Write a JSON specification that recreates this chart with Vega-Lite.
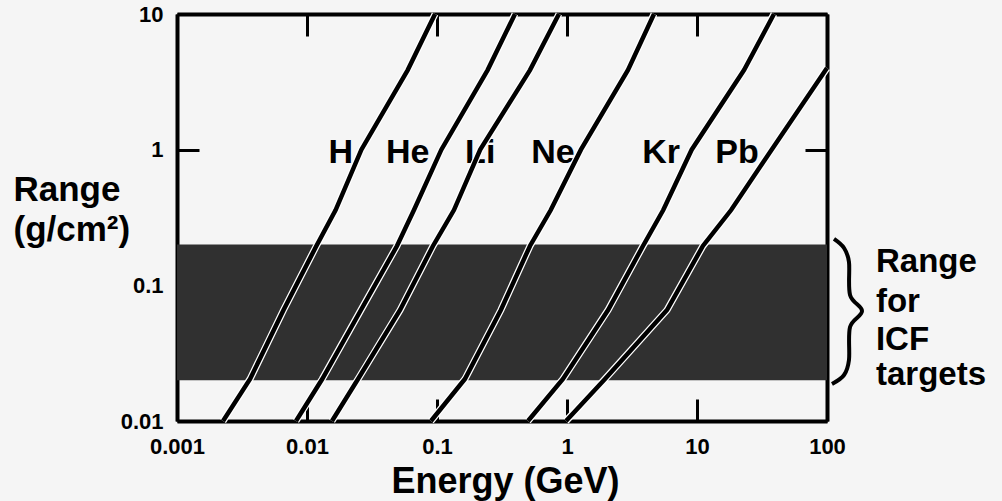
{
  "$schema": "https://vega.github.io/schema/vega-lite/v6.json",
  "width": 650,
  "height": 407,
  "autosize": {"type": "none"},
  "padding": {"left": 177, "top": 14, "right": 175, "bottom": 80},
  "background": "#f5f5f5",
  "config": {
    "view": {"stroke": null},
    "font": "Liberation Sans",
    "axis": {
      "zindex": 1,
      "grid": false,
      "labelFlush": false,
      "domainColor": "black",
      "domainWidth": 4,
      "tickColor": "black",
      "tickWidth": 3,
      "tickSize": -22,
      "labelFont": "Liberation Sans",
      "labelFontWeight": "bold",
      "labelFontSize": 22,
      "labelColor": "black",
      "titleFont": "Liberation Sans",
      "titleFontWeight": "bold",
      "titleColor": "black"
    }
  },
  "datasets": {
    "curves": [
      {"ion": "H", "E": 0.00226, "R": 0.01},
      {"ion": "H", "E": 0.00365, "R": 0.0204},
      {"ion": "H", "E": 0.0066, "R": 0.0658},
      {"ion": "H", "E": 0.0118, "R": 0.195},
      {"ion": "H", "E": 0.0166, "R": 0.359},
      {"ion": "H", "E": 0.0262, "R": 1.0},
      {"ion": "H", "E": 0.0595, "R": 3.86},
      {"ion": "H", "E": 0.0966, "R": 10},
      {"ion": "He", "E": 0.00823, "R": 0.01},
      {"ion": "He", "E": 0.0131, "R": 0.0204},
      {"ion": "He", "E": 0.026, "R": 0.0658},
      {"ion": "He", "E": 0.0492, "R": 0.195},
      {"ion": "He", "E": 0.0665, "R": 0.359},
      {"ion": "He", "E": 0.108, "R": 1.0},
      {"ion": "He", "E": 0.245, "R": 3.86},
      {"ion": "He", "E": 0.398, "R": 10},
      {"ion": "Li", "E": 0.01557, "R": 0.01},
      {"ion": "Li", "E": 0.0247, "R": 0.0204},
      {"ion": "Li", "E": 0.052, "R": 0.0658},
      {"ion": "Li", "E": 0.0931, "R": 0.195},
      {"ion": "Li", "E": 0.135, "R": 0.359},
      {"ion": "Li", "E": 0.215, "R": 1.0},
      {"ion": "Li", "E": 0.519, "R": 3.86},
      {"ion": "Li", "E": 0.867, "R": 10},
      {"ion": "Ne", "E": 0.0899, "R": 0.01},
      {"ion": "Ne", "E": 0.164, "R": 0.0204},
      {"ion": "Ne", "E": 0.31, "R": 0.0658},
      {"ion": "Ne", "E": 0.519, "R": 0.195},
      {"ion": "Ne", "E": 0.75, "R": 0.359},
      {"ion": "Ne", "E": 1.28, "R": 1.0},
      {"ion": "Ne", "E": 2.94, "R": 3.86},
      {"ion": "Ne", "E": 4.67, "R": 10},
      {"ion": "Kr", "E": 0.501, "R": 0.01},
      {"ion": "Kr", "E": 0.931, "R": 0.0204},
      {"ion": "Kr", "E": 2.07, "R": 0.0658},
      {"ion": "Kr", "E": 3.84, "R": 0.195},
      {"ion": "Kr", "E": 5.5, "R": 0.359},
      {"ion": "Kr", "E": 9.1, "R": 1.0},
      {"ion": "Kr", "E": 23.0, "R": 3.86},
      {"ion": "Kr", "E": 39.1, "R": 10},
      {"ion": "Pb", "E": 0.983, "R": 0.01},
      {"ion": "Pb", "E": 1.96, "R": 0.0204},
      {"ion": "Pb", "E": 5.88, "R": 0.0658},
      {"ion": "Pb", "E": 11.1, "R": 0.195},
      {"ion": "Pb", "E": 18.3, "R": 0.359},
      {"ion": "Pb", "E": 37.5, "R": 1.0},
      {"ion": "Pb", "E": 100, "R": 4.0}
    ],
    "labels": [
      {"ion": "H", "E": 0.0182, "R": 0.8},
      {"ion": "He", "E": 0.0595, "R": 0.8},
      {"ion": "Li", "E": 0.215, "R": 0.8},
      {"ion": "Ne", "E": 0.78, "R": 0.8},
      {"ion": "Kr", "E": 5.3, "R": 0.8},
      {"ion": "Pb", "E": 20.3, "R": 0.8}
    ],
    "brace": [
      {"i": 0, "E": 113.2, "R": 0.2198},
      {"i": 1, "E": 135.2, "R": 0.1884},
      {"i": 2, "E": 147.6, "R": 0.1486},
      {"i": 3, "E": 150.4, "R": 0.0849},
      {"i": 4, "E": 185.9, "R": 0.0647},
      {"i": 5, "E": 150.4, "R": 0.0493},
      {"i": 6, "E": 147.6, "R": 0.0282},
      {"i": 7, "E": 135.2, "R": 0.02183},
      {"i": 8, "E": 109.2, "R": 0.01875}
    ],
    "note": [
      {"t": "Range", "E": 238, "R": 0.1253},
      {"t": "for", "E": 238, "R": 0.0637},
      {"t": "ICF", "E": 238, "R": 0.0334},
      {"t": "targets", "E": 238, "R": 0.0184}
    ],
    "band": [
      {"lo": 0.02, "hi": 0.2}
    ]
  },
  "resolve": {"axis": {"x": "independent", "y": "independent"}},
  "layer": [
    {
      "data": {"name": "band"},
      "mark": {"type": "rect", "color": "#303030"},
      "encoding": {
        "y": {"field": "lo", "type": "quantitative", "scale": {"type": "log", "domain": [0.01, 10], "nice": false}, "axis": null},
        "y2": {"field": "hi"}
      }
    },
    {
      "data": {"name": "labels"},
      "mark": {"type": "text", "font": "Liberation Sans", "fontWeight": "bold", "fontSize": 34, "align": "center", "baseline": "alphabetic", "color": "black"},
      "encoding": {
        "x": {"field": "E", "type": "quantitative", "scale": {"type": "log", "domain": [0.001, 100], "nice": false}, "axis": null},
        "y": {"field": "R", "type": "quantitative", "scale": {"type": "log", "domain": [0.01, 10], "nice": false}, "axis": null},
        "text": {"field": "ion"}
      }
    },
    {
      "data": {"name": "curves"},
      "mark": {"type": "line", "color": "white", "strokeWidth": 7},
      "encoding": {
        "x": {"field": "E", "type": "quantitative", "scale": {"type": "log", "domain": [0.001, 100], "nice": false},
              "axis": {"orient": "top", "values": [0.001, 0.01, 0.1, 1, 10, 100], "labels": false, "title": null}},
        "y": {"field": "R", "type": "quantitative", "scale": {"type": "log", "domain": [0.01, 10], "nice": false},
              "axis": {"orient": "right", "values": [0.01, 0.1, 1, 10], "labels": false, "title": null,
                       "tickColor": {"condition": {"test": "datum.value === 0.1", "value": "white"}, "value": "black"}}},
        "detail": {"field": "ion"}
      }
    },
    {
      "data": {"name": "curves"},
      "mark": {"type": "line", "color": "black", "strokeWidth": 4.5},
      "encoding": {
        "x": {"field": "E", "type": "quantitative", "scale": {"type": "log", "domain": [0.001, 100], "nice": false},
              "axis": {"orient": "bottom", "values": [0.001, 0.01, 0.1, 1, 10, 100], "format": "~g", "labelPadding": 37,
                       "title": "Energy (GeV)", "titleFontSize": 36, "titleAnchor": "middle", "titleAlign": "center", "titleBaseline": "alphabetic", "titleX": 328, "titleY": 71}},
        "y": {"field": "R", "type": "quantitative", "scale": {"type": "log", "domain": [0.01, 10], "nice": false},
              "axis": {"orient": "left", "values": [0.01, 0.1, 1, 10], "format": "~g", "labelPadding": 36,
                       "tickColor": {"condition": {"test": "datum.value === 0.1", "value": "white"}, "value": "black"},
                       "title": ["Range", "(g/cm²)"], "titleFontSize": 35, "titleAngle": 0, "titleAlign": "left", "titleBaseline": "alphabetic", "titleLineHeight": 40, "titleX": -164, "titleY": 186}},
        "detail": {"field": "ion"}
      }
    },
    {
      "data": {"name": "brace"},
      "mark": {"type": "line", "color": "black", "strokeWidth": 4, "interpolate": "cardinal"},
      "encoding": {
        "x": {"field": "E", "type": "quantitative", "scale": {"type": "log", "domain": [0.001, 100], "nice": false}, "axis": null},
        "y": {"field": "R", "type": "quantitative", "scale": {"type": "log", "domain": [0.01, 10], "nice": false}, "axis": null},
        "order": {"field": "i"}
      }
    },
    {
      "data": {"name": "note"},
      "mark": {"type": "text", "font": "Liberation Sans", "fontWeight": "bold", "fontSize": 33, "align": "left", "baseline": "alphabetic", "color": "black"},
      "encoding": {
        "x": {"field": "E", "type": "quantitative", "scale": {"type": "log", "domain": [0.001, 100], "nice": false}, "axis": null},
        "y": {"field": "R", "type": "quantitative", "scale": {"type": "log", "domain": [0.01, 10], "nice": false}, "axis": null},
        "text": {"field": "t"}
      }
    }
  ]
}
